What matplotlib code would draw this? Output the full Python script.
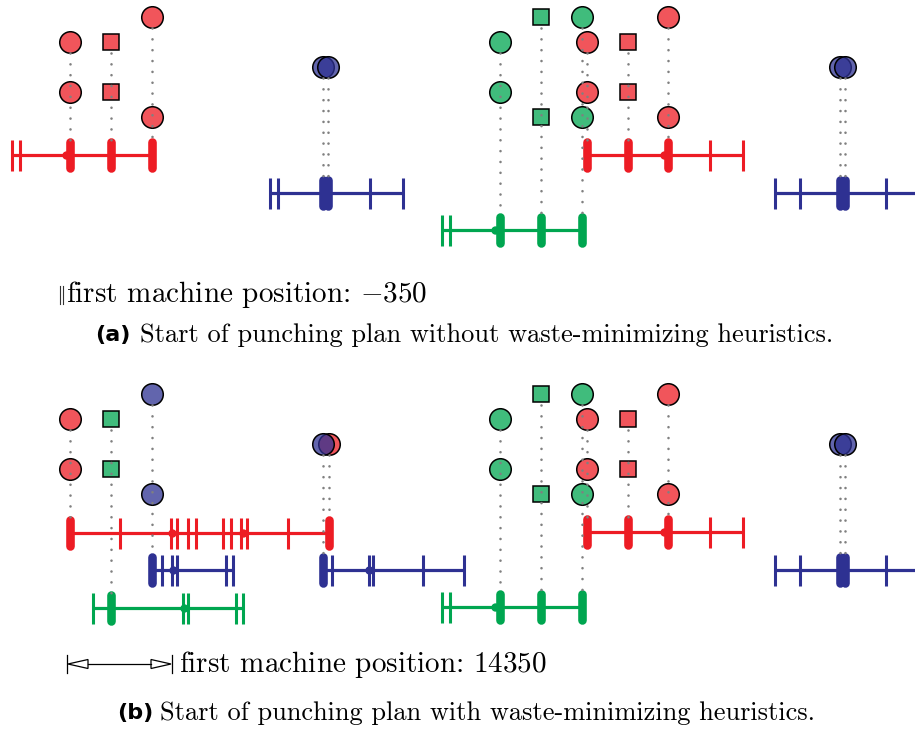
import matplotlib.pyplot as plt
from matplotlib.colors import to_rgba
from matplotlib.patches import Polygon

plt.rcParams['lines.scale_dashes'] = False
plt.rcParams['mathtext.fontset'] = 'cm'

RED = '#ed1c24'
GREEN = '#00a650'
BLUE = '#2e3192'
GRAY = '#808080'

# offset between the two plans (b is drawn below a)
SHIFT = 377

# rails: colour, rail y, thin ticks, thick ticks, small dots, right end
rails_a = [
    (RED, 155, [12, 20], [70, 111, 152], [66], None),
    (BLUE, 193, [270, 278, 370, 403], [323, 328], [], None),
    (GREEN, 230, [442, 450], [500, 541, 582], [495], None),
    (RED, 155, [710, 743], [587, 628, 668], [664], None),
    (BLUE, 193, [775, 800, 886], [840, 845], [], 920),
]

# punch columns: colour, shape, x, marker ys, rail y
cols_a = [
    (RED, 'o', 70, [42, 92], 155),
    (RED, 's', 111, [42, 92], 155),
    (RED, 'o', 152, [17, 117], 155),
    (BLUE, 'o', 323, [67], 193),
    (BLUE, 'o', 328, [67], 193),
    (GREEN, 'o', 500, [42, 92], 230),
    (GREEN, 's', 541, [17, 117], 230),
    (GREEN, 'o', 582, [17, 117], 230),
    (RED, 'o', 587, [42, 92], 155),
    (RED, 's', 628, [42, 92], 155),
    (RED, 'o', 668, [17, 117], 155),
    (BLUE, 'o', 840, [67], 193),
    (BLUE, 'o', 845, [67], 193),
]

rails_b_left = [
    (RED, 533, [120, 171, 177, 188, 196, 223, 231, 241, 247, 288], [70, 329], [172, 243], None),
    (BLUE, 570, [162, 172, 177, 226, 233], [152], [173], None),
    (BLUE, 570, [332, 369, 373, 423, 464], [323], [369], None),
    (GREEN, 608, [93, 183, 188, 236, 243], [111], [184], None),
]

cols_b_left = [
    (RED, 'o', 70, [419, 469], 533),
    (GREEN, 's', 111, [419, 469], 608),
    (BLUE, 'o', 152, [394, 494], 570),
    (RED, 'o', 329, [444], 533),
    (BLUE, 'o', 323, [444], 570),
]

# the right half of plan (b) is the same as in plan (a)
rails_b = rails_b_left + [(c, y + SHIFT, th, tk, d, e) for c, y, th, tk, d, e in rails_a[2:]]
cols_b = cols_b_left + [(c, m, x, [v + SHIFT for v in ys], y + SHIFT)
                        for c, m, x, ys, y in cols_a[5:]]

fig = plt.figure(figsize=(9.15, 7.31), dpi=100)
ax = fig.add_axes([0, 0, 1, 1])
ax.set_xlim(0, 915)
ax.set_ylim(731, 0)
ax.axis('off')


def draw_rail(colour, y, thin, thick, dots, end):
    xs = thin + thick
    x1 = end if end is not None else max(xs)
    ax.plot([min(xs), x1], [y, y], color=colour, lw=2.3, solid_capstyle='butt', zorder=1)
    for x in thin:
        ax.plot([x, x], [y - 15.5, y + 15.5], color=colour, lw=2.2,
                solid_capstyle='butt', zorder=2)
    for x in thick:
        ax.plot([x, x], [y - 13, y + 13], color=colour, lw=6.2,
                solid_capstyle='round', zorder=2)
    if dots:
        ax.plot(dots, [y] * len(dots), 'o', color=colour, ms=6, mew=0, zorder=3)


def draw_column(colour, shape, x, ys, rail_y):
    face = to_rgba(colour, 0.75)
    ms = 15.5 if shape == 'o' else 11.5
    ax.plot([x] * len(ys), ys, shape, ms=ms, mfc=face, mec='black', mew=1.1,
            ls='none', zorder=4)


def draw_dots(colour, shape, x, ys, rail_y):
    ax.plot([x, x], [min(ys) + 11, rail_y - 15], color=GRAY, lw=1.9,
            ls=(0, (0.01, 7.8)), dash_capstyle='round', zorder=5)


for rails, cols in [(rails_a, cols_a), (rails_b, cols_b)]:
    for r in rails:
        draw_rail(*r)
    for c in cols:
        draw_column(*c)
    for c in cols:
        draw_dots(*c)

# machine position markers
for x in [60, 63]:
    ax.plot([x, x], [286, 304], color='#333333', lw=0.8, zorder=5)

ay = 664
for x in [67, 172]:
    ax.plot([x, x], [ay - 9, ay + 9], color='black', lw=0.9)
ax.plot([88, 151], [ay, ay], color='black', lw=0.9)
ax.add_patch(Polygon([[68, ay], [88, ay - 4.5], [88, ay + 4.5]], closed=True,
                     facecolor='white', edgecolor='black', lw=0.9))
ax.add_patch(Polygon([[171, ay], [151, ay - 4.5], [151, ay + 4.5]], closed=True,
                     facecolor='white', edgecolor='black', lw=0.9))

serif = 'cmr10'
ax.text(66, 295, r'first machine position: $-350$', family=serif, fontsize=21,
        va='center', ha='left')
ax.text(179, ay, r'first machine position: $14350$', family=serif, fontsize=21,
        va='center', ha='left')

ax.text(95, 335, '(a)', family='DejaVu Sans', weight='bold', fontsize=16,
        va='center', ha='left')
ax.text(140, 335, 'Start of punching plan without waste-minimizing heuristics.',
        family=serif, fontsize=19, va='center', ha='left')
ax.text(117, 713, '(b)', family='DejaVu Sans', weight='bold', fontsize=16,
        va='center', ha='left')
ax.text(160, 713, 'Start of punching plan with waste-minimizing heuristics.',
        family=serif, fontsize=19, va='center', ha='left')

fig.savefig('out.png', dpi=100)
